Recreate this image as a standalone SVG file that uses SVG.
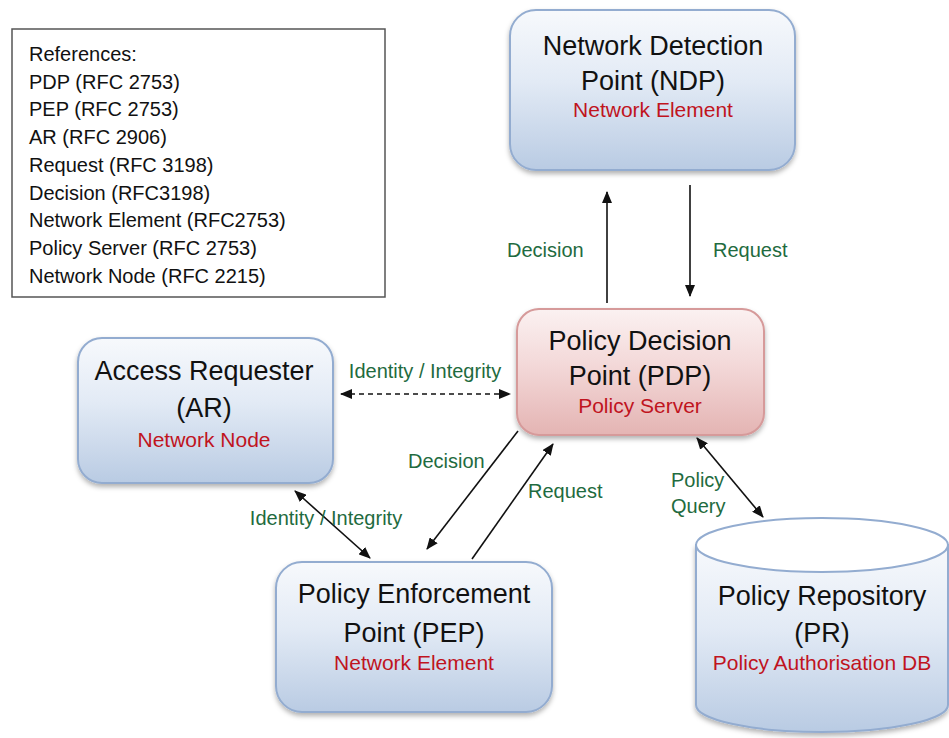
<svg xmlns="http://www.w3.org/2000/svg" width="949" height="738" viewBox="0 0 949 738">
<defs>
  <linearGradient id="gBlue" x1="0" y1="0" x2="0" y2="1">
    <stop offset="0" stop-color="#f7f9fc"/>
    <stop offset="0.45" stop-color="#e2eaf5"/>
    <stop offset="1" stop-color="#b9cbe3"/>
  </linearGradient>
  <linearGradient id="gRed" x1="0" y1="0" x2="0" y2="1">
    <stop offset="0" stop-color="#fbf1f1"/>
    <stop offset="0.45" stop-color="#f3d8d8"/>
    <stop offset="1" stop-color="#e4b4b3"/>
  </linearGradient>
  <filter id="sh" x="-10%" y="-10%" width="120%" height="125%">
    <feDropShadow dx="0" dy="3" stdDeviation="2.5" flood-color="#000" flood-opacity="0.3"/>
  </filter>
  <marker id="ah" viewBox="0 0 12 10" refX="11" refY="5" markerWidth="12" markerHeight="10" markerUnits="userSpaceOnUse" orient="auto-start-reverse">
    <path d="M0,0 L12,5 L0,10 Z" fill="#111"/>
  </marker>
</defs>
<style>
  text { font-family: "Liberation Sans", Arial, sans-serif; }
  .title { font-size: 27px; fill: #111; text-anchor: middle; }
  .sub { font-size: 21px; fill: #c0141e; text-anchor: middle; }
  .lbl { font-size: 20px; fill: #1f6b40; }
  .ref { font-size: 20px; fill: #111; }
  .blue { fill: url(#gBlue); stroke: #93acd0; stroke-width: 2; filter: url(#sh); }
  .red { fill: url(#gRed); stroke: #d69a9a; stroke-width: 2; filter: url(#sh); }
  .conn { stroke: #111; stroke-width: 1.6; fill: none; }
</style>
<rect width="949" height="738" fill="#ffffff"/>

<g id="references">
  <rect x="12" y="29" width="373" height="268" fill="#fff" stroke="#555" stroke-width="1.5"/>
  <text class="ref" x="29" y="61">References:</text>
  <text class="ref" x="29" y="88.7">PDP (RFC 2753)</text>
  <text class="ref" x="29" y="116.4">PEP (RFC 2753)</text>
  <text class="ref" x="29" y="144.1">AR (RFC 2906)</text>
  <text class="ref" x="29" y="171.8">Request (RFC 3198)</text>
  <text class="ref" x="29" y="199.5">Decision (RFC3198)</text>
  <text class="ref" x="29" y="227.2">Network Element (RFC2753)</text>
  <text class="ref" x="29" y="254.9">Policy Server (RFC 2753)</text>
  <text class="ref" x="29" y="282.6">Network Node (RFC 2215)</text>
</g>

<g id="ndp">
  <rect class="blue" x="510" y="10" width="285" height="160" rx="26"/>
  <text class="title" x="653" y="55">Network Detection</text>
  <text class="title" x="653" y="90">Point (NDP)</text>
  <text class="sub" x="653" y="117">Network Element</text>
</g>

<g id="pdp">
  <rect class="red" x="517" y="309" width="247" height="126" rx="22"/>
  <text class="title" x="640" y="350">Policy Decision</text>
  <text class="title" x="640" y="385">Point (PDP)</text>
  <text class="sub" x="640" y="413">Policy Server</text>
</g>

<g id="ar">
  <rect class="blue" x="78" y="338" width="255" height="145" rx="24"/>
  <text class="title" x="204" y="380">Access Requester</text>
  <text class="title" x="204" y="417">(AR)</text>
  <text class="sub" x="204" y="447">Network Node</text>
</g>

<g id="pep">
  <rect class="blue" x="276" y="562" width="276" height="150" rx="26"/>
  <text class="title" x="414" y="603">Policy Enforcement</text>
  <text class="title" x="414" y="642">Point (PEP)</text>
  <text class="sub" x="414" y="670">Network Element</text>
</g>

<g id="pr">
  <path class="blue" d="M696,545 L696,705 A126,27 0 0 0 948,705 L948,545 Z"/>
  <ellipse cx="822" cy="545" rx="126" ry="27" fill="#ffffff" stroke="#93acd0" stroke-width="2"/>
  <text class="title" x="822" y="605">Policy Repository</text>
  <text class="title" x="822" y="642">(PR)</text>
  <text class="sub" x="822" y="670">Policy Authorisation DB</text>
</g>

<g id="connectors">
  <line class="conn" x1="607" y1="303" x2="607" y2="192" marker-end="url(#ah)"/>
  <line class="conn" x1="690" y1="185" x2="690" y2="296" marker-end="url(#ah)"/>
  <line class="conn" x1="341" y1="394" x2="510" y2="394" stroke-dasharray="5,4" marker-start="url(#ah)" marker-end="url(#ah)"/>
  <line class="conn" x1="518" y1="431" x2="427" y2="549" marker-end="url(#ah)"/>
  <line class="conn" x1="472" y1="559" x2="553" y2="444" marker-end="url(#ah)"/>
  <line class="conn" x1="295" y1="491" x2="370" y2="558" marker-start="url(#ah)" marker-end="url(#ah)"/>
  <line class="conn" x1="697" y1="438" x2="763" y2="517" marker-start="url(#ah)" marker-end="url(#ah)"/>

  <text class="lbl" x="507" y="257">Decision</text>
  <text class="lbl" x="713" y="257">Request</text>
  <text class="lbl" x="425" y="378" text-anchor="middle">Identity / Integrity</text>
  <text class="lbl" x="408" y="468">Decision</text>
  <text class="lbl" x="528" y="498">Request</text>
  <text class="lbl" x="326" y="525" text-anchor="middle" font-size="21">Identity / Integrity</text>
  <text class="lbl" x="671" y="487">Policy</text>
  <text class="lbl" x="671" y="513">Query</text>
</g>
</svg>
